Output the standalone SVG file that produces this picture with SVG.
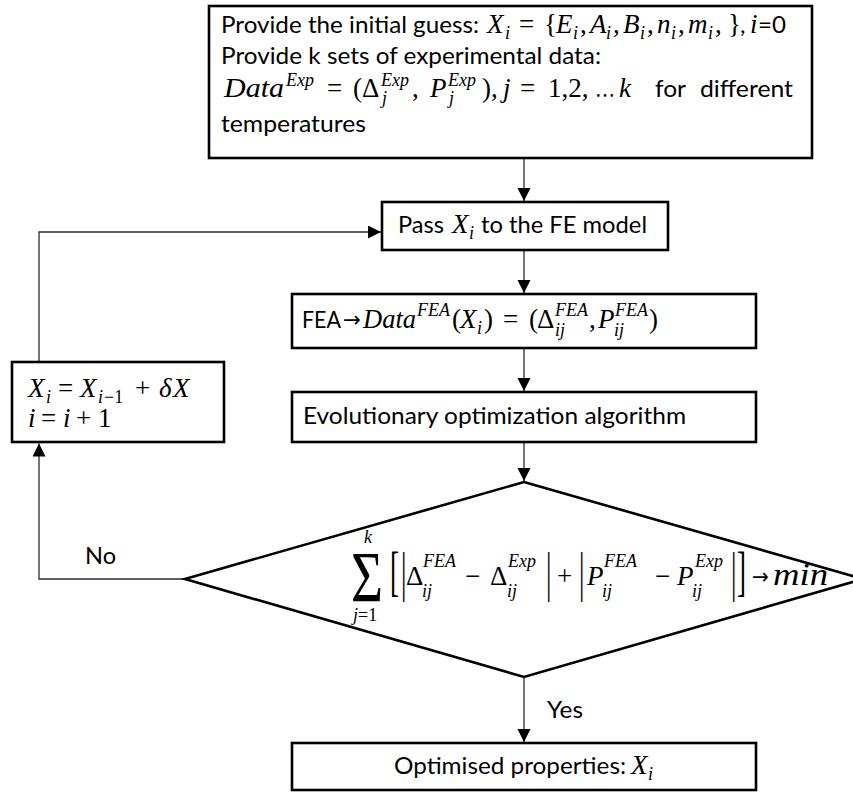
<svg xmlns="http://www.w3.org/2000/svg" width="853" height="792" viewBox="0 0 853 792">
<style>
.box{fill:#fff;stroke:#000;stroke-width:2.6}
.c{fill:none;stroke:#2b2b2b;stroke-width:1.3}
.t{font-family:Lato,"Open Sans",sans-serif;font-size:24px;fill:#000}
.m{font-family:"Liberation Serif","DejaVu Serif",serif;font-style:italic;font-size:27px;fill:#000}
.u{font-style:normal}
.s{font-size:18px}
.big{font-size:72px}
.mn{font-size:31px}
.ar{font-family:"DejaVu Sans",sans-serif;font-size:22px;fill:#000}
</style>
<defs>
<marker id="ah" markerUnits="userSpaceOnUse" markerWidth="14" markerHeight="14" refX="13" refY="6.5" orient="auto"><path d="M0,0 L13,6.5 L0,13 z" fill="#000"/></marker>
</defs>
<rect width="853" height="792" fill="#fff"/>

<g id="connectors">
<path class="c" d="M524,158.5 V201" marker-end="url(#ah)"/>
<path class="c" d="M524,251 V293" marker-end="url(#ah)"/>
<path class="c" d="M524,349 V391" marker-end="url(#ah)"/>
<path class="c" d="M524,443 V481" marker-end="url(#ah)"/>
<path class="c" d="M524,677 V742" marker-end="url(#ah)"/>
<path class="c" d="M39,361 V232 H381" marker-end="url(#ah)"/>
<path class="c" d="M185,579 H39 V443.5" marker-end="url(#ah)"/>
<text class="t" x="85" y="564" textLength="31" lengthAdjust="spacingAndGlyphs">No</text>
<text class="t" x="547" y="718" textLength="36" lengthAdjust="spacingAndGlyphs">Yes</text>
</g>

<g id="start">
<rect class="box" x="209" y="6" width="603" height="152"/>
<text class="t" x="221" y="33" textLength="258" lengthAdjust="spacingAndGlyphs">Provide the initial guess:</text>
<text class="m" y="33"><tspan x="487">X</tspan><tspan class="s" x="505" y="39">i</tspan><tspan class="u" x="519" y="33">=</tspan><tspan class="u" x="544">{</tspan><tspan x="556">E</tspan><tspan class="s" x="573" y="39">i</tspan><tspan class="u" x="580" y="33">,</tspan><tspan x="590">A</tspan><tspan class="s" x="606" y="39">i</tspan><tspan class="u" x="613" y="33">,</tspan><tspan x="623">B</tspan><tspan class="s" x="640" y="39">i</tspan><tspan class="u" x="647" y="33">,</tspan><tspan x="657">n</tspan><tspan class="s" x="671" y="39">i</tspan><tspan class="u" x="678" y="33">,</tspan><tspan x="688">m</tspan><tspan class="s" x="708" y="39">i</tspan><tspan class="u" x="715" y="33">,</tspan><tspan class="u" x="728">}</tspan><tspan x="750">i</tspan></text>
<text class="t" x="740" y="33">,</text>
<text class="t" x="758" y="33" textLength="28" lengthAdjust="spacingAndGlyphs">=0</text>
<text class="t" x="221" y="64" textLength="380" lengthAdjust="spacingAndGlyphs">Provide k sets of experimental data:</text>
<text class="m" y="97"><tspan x="224" textLength="60" lengthAdjust="spacingAndGlyphs">Data</tspan><tspan class="s" x="286" y="86">Exp</tspan><tspan class="u" x="327" y="97">=</tspan><tspan class="u" x="353">(</tspan><tspan class="u" x="362">Δ</tspan><tspan class="s" x="381" y="86">Exp</tspan><tspan class="s" x="382" y="104">j</tspan><tspan class="u" x="412" y="97">,</tspan><tspan x="430">P</tspan><tspan class="s" x="448" y="86">Exp</tspan><tspan class="s" x="449" y="104">j</tspan><tspan class="u" x="482" y="97">),</tspan><tspan x="503">j</tspan><tspan class="u" x="520">=</tspan><tspan class="u" x="548">1,2,</tspan><tspan class="u" x="595" textLength="20" lengthAdjust="spacingAndGlyphs">…</tspan><tspan x="619">k</tspan></text>
<text class="t" x="655" y="97" textLength="31" lengthAdjust="spacingAndGlyphs">for</text>
<text class="t" x="700" y="97" textLength="93" lengthAdjust="spacingAndGlyphs">different</text>
<text class="t" x="221" y="132" textLength="145" lengthAdjust="spacingAndGlyphs">temperatures</text>
</g>

<g id="pass">
<rect class="box" x="382" y="202" width="286" height="48"/>
<text class="t" x="398" y="233" textLength="46" lengthAdjust="spacingAndGlyphs">Pass</text>
<text class="m" y="233"><tspan x="452">X</tspan><tspan class="s" x="469" y="239">i</tspan></text>
<text class="t" x="481" y="233" textLength="166" lengthAdjust="spacingAndGlyphs">to the FE model</text>
</g>

<g id="fea">
<rect class="box" x="292" y="294" width="464" height="54"/>
<text class="t" x="302" y="328" textLength="39" lengthAdjust="spacingAndGlyphs">FEA</text>
<text class="ar" x="343" y="327" textLength="18" lengthAdjust="spacingAndGlyphs">→</text>
<text class="m" y="328"><tspan x="363" textLength="53" lengthAdjust="spacingAndGlyphs">Data</tspan><tspan class="s" x="417" y="316">FEA</tspan><tspan class="u" x="452" y="328">(</tspan><tspan x="460">X</tspan><tspan class="s" x="477" y="334">i</tspan><tspan class="u" x="484" y="328">)</tspan><tspan class="u" x="503">=</tspan><tspan class="u" x="529">(</tspan><tspan class="u" x="537">Δ</tspan><tspan class="s" x="555" y="316">FEA</tspan><tspan class="s" x="555" y="336">ij</tspan><tspan class="u" x="589" y="328">,</tspan><tspan x="598">P</tspan><tspan class="s" x="615" y="316">FEA</tspan><tspan class="s" x="614" y="336">ij</tspan><tspan class="u" x="649" y="328">)</tspan></text>
</g>

<g id="update">
<rect class="box" x="12" y="362" width="212" height="80"/>
<text class="m" y="397"><tspan x="28">X</tspan><tspan class="s" x="46" y="403">i</tspan><tspan class="u" x="58" y="397">=</tspan><tspan x="80">X</tspan><tspan class="s" x="98" y="403">i</tspan><tspan class="s u" x="104">−1</tspan><tspan class="u" x="135" y="397">+</tspan><tspan x="159">δ</tspan><tspan x="173">X</tspan></text>
<text class="m" y="427"><tspan x="28">i</tspan><tspan class="u" x="41">=</tspan><tspan x="63">i</tspan><tspan class="u" x="76">+</tspan><tspan class="u" x="98">1</tspan></text>
</g>

<g id="evol">
<rect class="box" x="292" y="392" width="464" height="50"/>
<text class="t" x="303" y="424" textLength="383" lengthAdjust="spacingAndGlyphs">Evolutionary optimization algorithm</text>
</g>

<g id="decision">
<polygon class="box" points="524,482 863,579 524,677 185,579"/>
<text class="m s" x="364" y="543">k</text>
<text class="m u big" x="351" y="601" textLength="32" lengthAdjust="spacingAndGlyphs">Σ</text>
<text class="m s" y="621"><tspan x="353">j</tspan><tspan class="u">=1</tspan></text>
<text class="m u" transform="translate(390,590) scale(1,2)">[</text>
<text class="m u" transform="translate(401,590) scale(1,2)">|</text>
<text class="m u" x="406" y="585">Δ</text>
<text class="m s" x="423" y="567">FEA</text>
<text class="m s" x="422" y="597">ij</text>
<text class="m u" x="465" y="585">−</text>
<text class="m u" x="490" y="585">Δ</text>
<text class="m s" x="508" y="567">Exp</text>
<text class="m s" x="507" y="597">ij</text>
<text class="m u" transform="translate(546,590) scale(1,2)">|</text>
<text class="m u" x="557" y="585">+</text>
<text class="m u" transform="translate(579,590) scale(1,2)">|</text>
<text class="m" x="587" y="585">P</text>
<text class="m s" x="604" y="567">FEA</text>
<text class="m s" x="602" y="597">ij</text>
<text class="m u" x="655" y="585">−</text>
<text class="m" x="677" y="585">P</text>
<text class="m s" x="695" y="567">Exp</text>
<text class="m s" x="692" y="597">ij</text>
<text class="m u" transform="translate(731,590) scale(1,2)">|</text>
<text class="m u" transform="translate(737,590) scale(1,2)">]</text>
<text class="ar" x="752" y="584" textLength="17" lengthAdjust="spacingAndGlyphs">→</text>
<text class="m mn" x="773" y="585" textLength="55" lengthAdjust="spacingAndGlyphs">min</text>
</g>

<g id="result">
<rect class="box" x="292" y="743" width="464" height="47"/>
<text class="t" x="394" y="774" textLength="232" lengthAdjust="spacingAndGlyphs">Optimised properties:</text>
<text class="m" y="774"><tspan x="631">X</tspan><tspan class="s" x="648" y="780">i</tspan></text>
</g>
</svg>
